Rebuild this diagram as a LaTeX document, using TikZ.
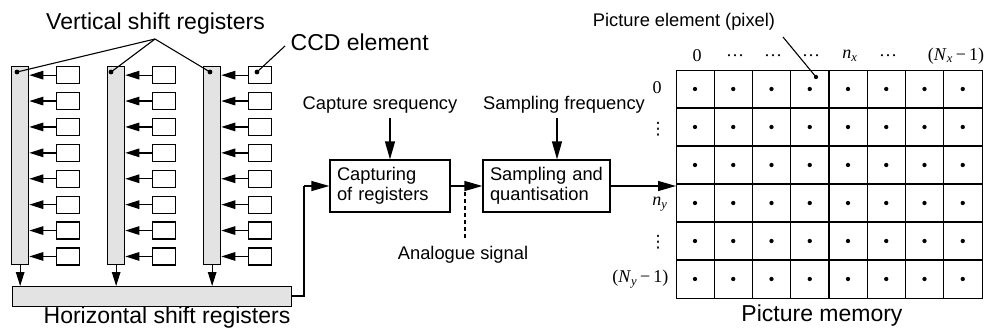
\documentclass[tikz,border=0pt]{standalone}
\usepackage{fontspec}
\setmainfont{Liberation Sans}
\newfontfamily\tms{Liberation Serif}
\newfontfamily\dvs{DejaVu Sans}
\usetikzlibrary{arrows.meta,calc}
\providecommand\bigfont{\fontsize{23}{26}\selectfont}
\providecommand\smallfont{\fontsize{18.3}{20}\selectfont}
\providecommand\idxfont{\fontsize{18}{20}\tms\selectfont}

\begin{document}
\begin{tikzpicture}[x=1pt,y=-1pt,line width=1.3pt,
  tip/.style={-{Triangle[length=14pt,width=8.5pt]}},
  bigtip/.style={-{Triangle[length=18pt,width=10pt]}},
  reg/.style={draw,fill=gray!22,inner sep=0,minimum width=17pt,minimum height=198pt,anchor=north west},
  ccd/.style={draw,inner sep=0,minimum width=23pt,minimum height=17pt,anchor=north west},
  block/.style={draw,inner xsep=7pt,inner ysep=0,minimum height=52pt,align=left,font=\smallfont},
  big/.style={inner sep=0,font=\bigfont},
  small/.style={inner sep=0,font=\smallfont},
  idx/.style={inner sep=0,font=\idxfont},
  vdot/.style={inner sep=0,font={\fontsize{17}{18}\dvs\selectfont}},
  pt/.style={fill,circle,inner sep=0,minimum size=4.3pt}]

\useasboundingbox (0,0) rectangle (994,335);

% vertical shift registers with their CCD elements
\foreach \j/\dx in {1/0,2/96,3/192}{
  \node[reg] (r\j) at (11+\dx,66) {};
  \foreach \i in {0,...,7}{
    \node[ccd] (c\j\i) at (56+\dx,66+25.9*\i) {};
    \draw[tip] (c\j\i.west) -- (c\j\i.west -| r\j.east);
  }
}

% horizontal shift register
\node[draw,fill=gray!22,inner sep=0,minimum width=279pt,minimum height=20pt,anchor=north west] (h) at (12,286) {};
\foreach \j in {1,2,3}{
  \draw[tip] (r\j.south) -- (r\j.south |- h.north);
}

% labels of the sensor
\node[big] (vlab) at (155.5,24) {Vertical shift registers};
\coordinate (vapex) at (155,39);
\node[pt,minimum size=4.8pt] (d1) at (17,72) {};
\node[pt,minimum size=4.8pt] (d2) at (111,72) {};
\node[pt,minimum size=4.8pt] (d3) at (210,72) {};
\foreach \k in {1,2,3}{ \draw[line width=1.1pt] (vapex) -- (d\k.center); }

\node[big,anchor=west] (ccdlab) at (290,42) {CCD element};
\node[pt,minimum size=4.8pt] (dc) at (257,72) {};
\coordinate (ccdlead) at (285,46);
\draw[line width=1.1pt] (ccdlead) -- (dc.center);

\node[big] (hlab) at (167,318) {Horizontal shift registers};

% processing chain
\node[block,text width=106pt] (cap) at (390,186) {Capturing\\of registers};
\node[block,text width=113pt] (samp) at (546.5,186) {Sampling and\\quantisation};

\coordinate (bend1) at (304,296);
\coordinate (bend2) at (304,186);
\draw (h.east |- bend1) -- (bend1) -- (bend2);
\draw[bigtip] (bend2) -- (cap.west);
\draw[bigtip] (cap.east) -- (samp.west);

\node[small] (cfreq) at (380,105) {Capture srequency};
\coordinate (cfa) at (390,118);
\draw[bigtip] (cfa) -- (cfa |- cap.north);
\node[small] (sfreq) at (564,105) {Sampling frequency};
\coordinate (sfa) at (557,118);
\draw[bigtip] (sfa) -- (sfa |- samp.north);

\coordinate (an1) at (465,192);
\coordinate (an2) at (465,238);
\draw[line width=1.1pt,dash pattern=on 4pt off 3pt] (an1) -- (an2);
\node[small] (alab) at (463,255) {Analogue signal};

% picture memory
\node[draw,inner sep=0,minimum width=306pt,minimum height=228pt,anchor=north west] (mem) at (676,70) {};
\foreach \c in {1,...,7}{
  \draw ($(mem.north west)+(38.25*\c,0)$) -- ($(mem.south west)+(38.25*\c,0)$);
}
\foreach \r in {1,...,5}{
  \draw ($(mem.north west)+(0,38*\r)$) -- ($(mem.north east)+(0,38*\r)$);
}
\foreach \c in {0,...,7}{
  \foreach \r in {0,...,5}{
    \node[pt] (p\c\r) at (695+38.25*\c,89+38*\r) {};
  }
}
\draw[bigtip] (samp.east) -- (samp.east -| mem.west);

% column and row indices
\node[idx] (cx0) at (697,56) {0};
\node[idx] (cx1) at (735,56) {\dots};
\node[idx] (cx2) at (773,56) {\dots};
\node[idx] (cx3) at (811,56) {\dots};
\node[idx] (cx4) at (850,56) {\itshape n\textsubscript{x}};
\node[idx] (cx5) at (888,56) {\dots};
\node[idx] (cx6) at (956,56) {(\textit{N}\textsubscript{\itshape x}\,−\,1)};

\node[idx] (ry0) at (657,88) {0};
\node[vdot] (ry1) at (658,129) {⋮};
\node[idx] (ry3) at (660,204) {\itshape n\textsubscript{y}};
\node[vdot] (ry4) at (658,242) {⋮};
\node[idx,anchor=east] (ry5) at (669,279) {(\textit{N}\textsubscript{\itshape y}\,−\,1)};

% pixel leader
\node[small] (plab) at (684,22) {Picture element (pixel)};
\coordinate (plead) at (783,37);
\node[pt] (pd) at (816,77) {};
\draw[line width=1.1pt] (plead) -- (pd.center);

\node[big] (mlab) at (822,316) {Picture memory};
\end{tikzpicture}
\end{document}
